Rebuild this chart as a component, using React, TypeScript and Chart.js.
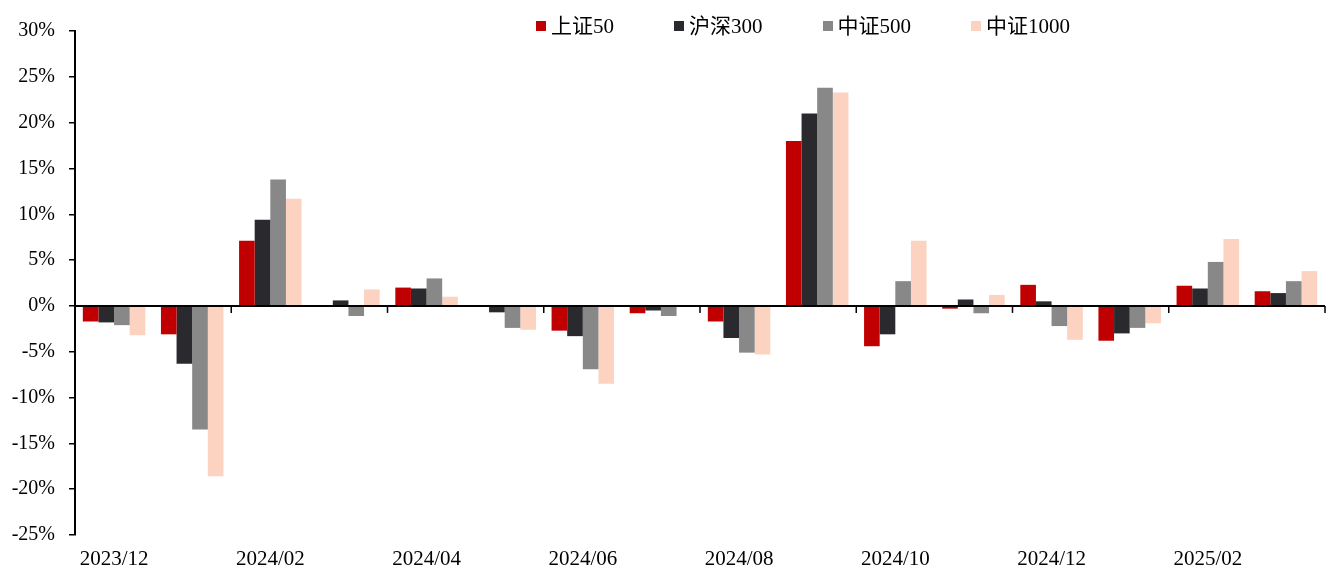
import React, { useEffect, useRef } from "react";
import { Chart, registerables } from "chart.js";

Chart.register(...registerables);

const categories = [
  "2023/12", "2024/01", "2024/02", "2024/03", "2024/04", "2024/05", "2024/06", "2024/07",
  "2024/08", "2024/09", "2024/10", "2024/11", "2024/12", "2025/01", "2025/02", "2025/03",
];
const sz50 = [-1.7, -3.1, 7.1, 0, 2.0, 0, -2.7, -0.8, -1.7, 18.0, -4.4, -0.3, 2.3, -3.8, 2.2, 1.6];
const hs300 = [-1.8, -6.3, 9.4, 0.6, 1.9, -0.7, -3.3, -0.5, -3.5, 21.0, -3.1, 0.7, 0.5, -3.0, 1.9, 1.4];
const zz500 = [-2.1, -13.5, 13.8, -1.1, 3.0, -2.4, -6.9, -1.1, -5.1, 23.8, 2.7, -0.8, -2.2, -2.4, 4.8, 2.7];
const zz1000 = [-3.2, -18.6, 11.7, 1.8, 1.0, -2.6, -8.5, 0, -5.3, 23.3, 7.1, 1.2, -3.7, -1.9, 7.3, 3.8];

const seriesNames = ["上证50", "沪深300", "中证500", "中证1000"];
const seriesColors = ["#C00000", "#2A2A2E", "#888888", "#FBD3C0"];
const seriesData = [sz50, hs300, zz500, zz1000];

const yMin = -25;
const yMax = 30;
const yStep = 5;

const FONT = '"Liberation Serif", "Times New Roman", "Noto Sans CJK SC", serif';

const zeroLinePlugin = {
  id: "zeroLine",
  afterDatasetsDraw(chart: any) {
    const { ctx, chartArea, scales } = chart;
    const x = scales.x;
    const y = scales.y;
    const y0 = y.getPixelForValue(0);
    ctx.save();
    ctx.strokeStyle = "#000";
    ctx.lineWidth = 2;
    ctx.beginPath();
    ctx.moveTo(chartArea.left, y0);
    ctx.lineTo(chartArea.right, y0);
    ctx.stroke();
    const n = categories.length;
    const half = (x.getPixelForValue(1) - x.getPixelForValue(0)) / 2;
    ctx.lineWidth = 1.5;
    for (let i = 2; i <= n; i += 2) {
      const px = i < n ? x.getPixelForValue(i) - half : chartArea.right;
      ctx.beginPath();
      ctx.moveTo(px, y0);
      ctx.lineTo(px, y0 + 7);
      ctx.stroke();
    }
    ctx.restore();
  },
};

export default function App() {
  const ref = useRef<HTMLCanvasElement>(null);
  useEffect(() => {
    document.body.style.margin = "0";
    const chart = new Chart(ref.current!, {
      type: "bar",
      data: {
        labels: categories,
        datasets: seriesData.map((d, i) => ({
          label: seriesNames[i],
          data: d,
          backgroundColor: seriesColors[i],
          borderWidth: 0,
          categoryPercentage: 0.8,
          barPercentage: 1.0,
        })),
      },
      options: {
        animation: false,
        responsive: false,
        layout: { padding: { top: 31, right: 5, left: 0, bottom: 0 } },
        plugins: { legend: { display: false }, tooltip: { enabled: false } },
        scales: {
          x: {
            grid: { display: false },
            border: { display: false },
            ticks: {
              autoSkip: false,
              maxRotation: 0,
              padding: 4,
              color: "#000",
              font: { family: FONT, size: 21 },
              callback: (_v: any, i: number) => (i % 2 === 0 ? categories[i] : ""),
            },
            afterFit: (s: any) => {
              s.height = 35;
            },
          },
          y: {
            min: yMin,
            max: yMax,
            grid: {
              drawOnChartArea: false,
              drawTicks: true,
              tickLength: 6,
              color: "#000",
              lineWidth: 1.5,
            },
            border: { display: true, color: "#000", width: 2 },
            ticks: {
              stepSize: yStep,
              padding: 14,
              color: "#000",
              font: { family: FONT, size: 20 },
              callback: (v: any) => `${v}%`,
            },
            afterFit: (s: any) => {
              s.width = 75;
            },
          },
        },
      },
      plugins: [zeroLinePlugin],
    });
    return () => chart.destroy();
  }, []);

  return (
    <div style={{ position: "relative", width: 1330, height: 570 }}>
      <canvas ref={ref} width={1330} height={570} style={{ display: "block" }} />
      <div
        style={{
          position: "absolute",
          top: 14,
          left: 536,
          display: "flex",
          alignItems: "center",
          gap: 60,
          fontFamily: FONT,
          fontSize: 21,
          lineHeight: "24px",
          color: "#000",
          whiteSpace: "nowrap",
        }}
      >
        {seriesNames.map((n, i) => (
          <div key={n} style={{ display: "flex", alignItems: "center" }}>
            <span
              style={{
                display: "inline-block",
                width: 10,
                height: 10,
                background: seriesColors[i],
                marginRight: 5,
              }}
            />
            <span>{n}</span>
          </div>
        ))}
      </div>
    </div>
  );
}
